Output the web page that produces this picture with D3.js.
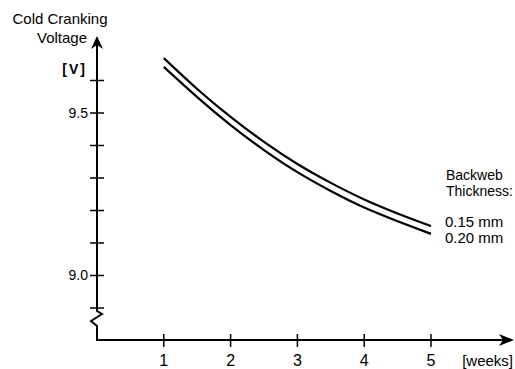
<!DOCTYPE html>
<html>
<head>
<meta charset="utf-8">
<script src="https://cdn.jsdelivr.net/npm/d3@7"></script>
<style>
  body { margin: 0; background: #fff; }
  svg text { font-family: 'Liberation Sans', Arial, sans-serif; fill: #000; }
</style>
</head>
<body>
<svg id="chart" width="515" height="369"></svg>
<script>
'use strict';

// values
var weeks = [1, 1.5, 2, 2.5, 3, 3.5, 4, 4.5, 5];
var voltage015 = [9.669, 9.574, 9.488, 9.411, 9.343, 9.285, 9.234, 9.191, 9.152];
var voltage020 = [9.642, 9.549, 9.463, 9.386, 9.318, 9.260, 9.209, 9.167, 9.128];
var xTicks = [1, 2, 3, 4, 5];
var yTicks = [9.6, 9.5, 9.4, 9.3, 9.2, 9.1, 9.0, 8.9];
var yLabels = [9.5, 9.0];
var legendTitle = ['Backweb', 'Thickness:'];
var legendItems = ['0.15 mm', '0.20 mm'];

var svg = d3.select('#chart');

var x = d3.scaleLinear().domain([0, 5]).range([97, 431]);
var y = d3.scaleLinear().domain([8.9, 9.6]).range([308, 80.5]);

var x0 = x(0), yBase = 340;

// y axis with break, then x axis
var axisPath = d3.path();
axisPath.moveTo(x0, 44);
axisPath.lineTo(x0, 311);
axisPath.lineTo(x0 + 5, 314);
axisPath.lineTo(x0 - 6, 321);
axisPath.lineTo(x0, 326);
axisPath.lineTo(x0, yBase);
axisPath.lineTo(505, yBase);

svg.append('path')
    .attr('d', axisPath.toString())
    .attr('fill', 'none')
    .attr('stroke', '#000')
    .attr('stroke-width', 2);

// arrowheads
svg.append('path')
    .attr('d', 'M' + x0 + ',36 L' + (x0 - 6) + ',49 L' + x0 + ',45 L' + (x0 + 6) + ',49 Z')
    .attr('fill', '#000');
svg.append('path')
    .attr('d', 'M514,' + yBase + ' L499,' + (yBase - 6) + ' L503,' + yBase + ' L499,' + (yBase + 6) + ' Z')
    .attr('fill', '#000');

// y ticks
svg.selectAll('.ytick')
    .data(yTicks)
    .enter().append('line')
    .attr('class', 'ytick')
    .attr('x1', x0 - 7)
    .attr('x2', x0 + 7)
    .attr('y1', function(d) { return y(d); })
    .attr('y2', function(d) { return y(d); })
    .attr('stroke', '#000')
    .attr('stroke-width', 1.5);

svg.selectAll('.ylabel')
    .data(yLabels)
    .enter().append('text')
    .attr('class', 'ylabel')
    .attr('x', x0 - 9)
    .attr('y', function(d) { return y(d); })
    .attr('dy', '0.35em')
    .attr('text-anchor', 'end')
    .attr('font-size', 14)
    .text(function(d) { return d3.format('.1f')(d); });

// x ticks
svg.selectAll('.xtick')
    .data(xTicks)
    .enter().append('line')
    .attr('class', 'xtick')
    .attr('x1', function(d) { return x(d); })
    .attr('x2', function(d) { return x(d); })
    .attr('y1', yBase - 6)
    .attr('y2', yBase + 7)
    .attr('stroke', '#000')
    .attr('stroke-width', 1.5);

svg.selectAll('.xlabel')
    .data(xTicks)
    .enter().append('text')
    .attr('class', 'xlabel')
    .attr('x', function(d) { return x(d); })
    .attr('y', 366)
    .attr('text-anchor', 'middle')
    .attr('font-size', 16)
    .text(function(d) { return d; });

svg.append('text')
    .attr('x', 513)
    .attr('y', 366)
    .attr('text-anchor', 'end')
    .attr('font-size', 15)
    .text('[weeks]');

// y axis title
svg.append('text')
    .attr('x', 60)
    .attr('y', 24)
    .attr('text-anchor', 'middle')
    .attr('font-size', 15)
    .text('Cold Cranking');
svg.append('text')
    .attr('x', 87)
    .attr('y', 43)
    .attr('text-anchor', 'end')
    .attr('font-size', 15)
    .text('Voltage');
svg.append('text')
    .attr('x', 87)
    .attr('y', 74)
    .attr('text-anchor', 'end')
    .attr('font-size', 14)
    .attr('font-weight', 'bold')
    .attr('letter-spacing', 2)
    .text('[V]');

// curves
var line = d3.line()
    .x(function(d) { return x(d[0]); })
    .y(function(d) { return y(d[1]); })
    .curve(d3.curveNatural);

[voltage015, voltage020].forEach(function(series) {
    svg.append('path')
        .datum(d3.zip(weeks, series))
        .attr('d', line)
        .attr('fill', 'none')
        .attr('stroke', '#000')
        .attr('stroke-width', 2.2);
});

// legend text
svg.selectAll('.legend-title')
    .data(legendTitle)
    .enter().append('text')
    .attr('class', 'legend-title')
    .attr('x', 446)
    .attr('y', function(d, i) { return 180 + i * 16; })
    .attr('font-size', 14)
    .text(function(d) { return d; });

svg.selectAll('.legend-item')
    .data(legendItems)
    .enter().append('text')
    .attr('class', 'legend-item')
    .attr('x', 445)
    .attr('y', function(d, i) { return 227 + i * 16; })
    .attr('font-size', 15)
    .text(function(d) { return d; });
</script>
</body>
</html>
